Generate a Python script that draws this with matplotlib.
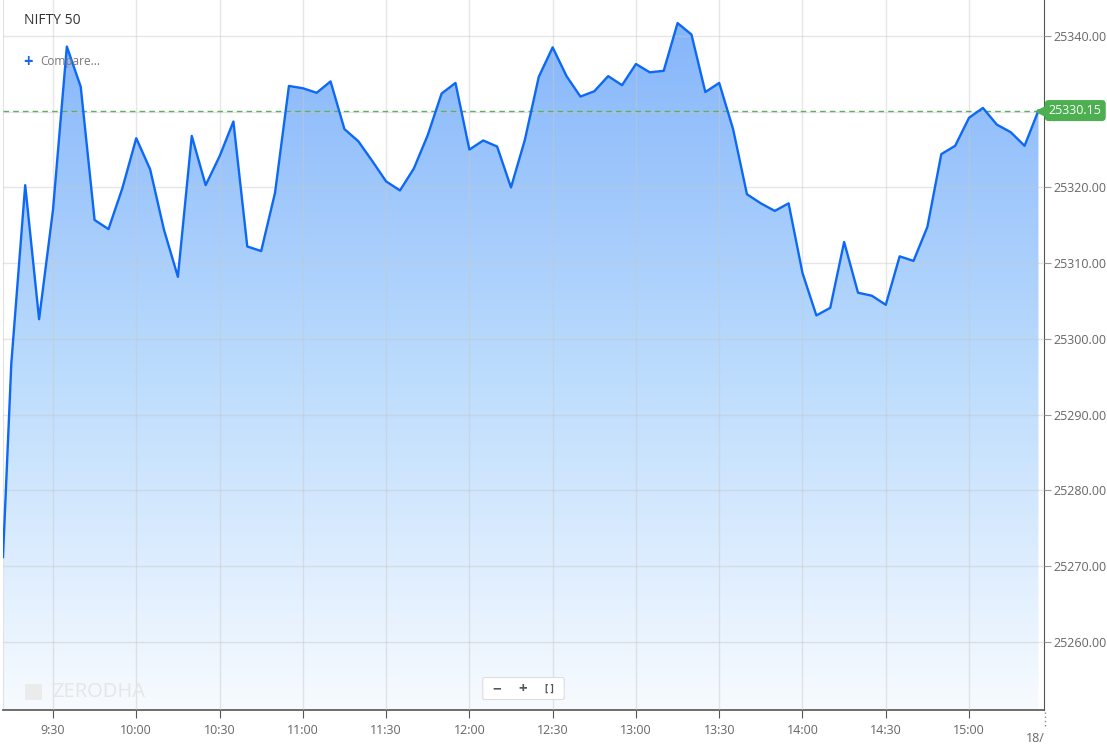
import numpy as np
import pandas as pd
import matplotlib
matplotlib.use('Agg')
import matplotlib.pyplot as plt
from matplotlib.colors import LinearSegmentedColormap
from matplotlib.patches import PathPatch, Rectangle, FancyBboxPatch

plt.rcParams['font.family'] = ['Open Sans', 'DejaVu Sans']

# NIFTY 50 intraday, 5 minute closes
times = ['09:12', '09:15'] + [t.strftime('%H:%M') for t in pd.date_range('2025-01-01 09:20', '2025-01-01 15:25', freq='5min')]
prices = [25271.2, 25296.8,
          25320.3, 25302.6, 25317.0, 25338.6, 25333.3, 25315.7, 25314.5, 25319.9, 25326.5, 25322.4,
          25314.4, 25308.2, 25326.8, 25320.3, 25324.1, 25328.7, 25312.2, 25311.6, 25319.3, 25333.4,
          25333.1, 25332.5, 25334.0, 25327.7, 25326.1, 25323.5, 25320.8, 25319.6, 25322.5, 25326.9,
          25332.4, 25333.8, 25325.0, 25326.2, 25325.4, 25320.0, 25326.3, 25334.6, 25338.5, 25334.7,
          25332.0, 25332.7, 25334.7, 25333.5, 25336.3, 25335.2, 25335.4, 25341.7, 25340.2, 25332.6,
          25333.8, 25327.7, 25319.1, 25317.9, 25316.9, 25317.9, 25308.7, 25303.1, 25304.1, 25312.8,
          25306.1, 25305.7, 25304.5, 25310.9, 25310.3, 25314.8, 25324.4, 25325.5, 25329.2, 25330.5,
          25328.3, 25327.3, 25325.5, 25330.15]
last_price = 25330.15
tick_times = ['09:30', '10:00', '10:30', '11:00', '11:30', '12:00', '12:30',
              '13:00', '13:30', '14:00', '14:30', '15:00']
y_ticks = [25260, 25270, 25280, 25290, 25300, 25310, 25320, 25330, 25340]


def to_min(s):
    h, m = s.split(':')
    return int(h) * 60 + int(m)


x = np.array([to_min(t) for t in times], dtype=float)
y = np.array(prices)
xmin, xmax = to_min('09:12'), to_min('15:27')
ymin, ymax = 25251.0, 25344.75

fig = plt.figure(figsize=(11.07, 7.49), dpi=100)
ax = fig.add_axes([3 / 1107, 39 / 749, 1041 / 1107, 710 / 749])
ax.set_xlim(xmin, xmax)
ax.set_ylim(ymin, ymax)

# gradient fill under the line
cmap = LinearSegmentedColormap.from_list('fillgrad', ['#82b3fa', '#b9dafd', '#f7fbff'])
grad = np.linspace(0, 1, 256).reshape(-1, 1)
im = ax.imshow(grad, extent=[xmin, xmax, ymin, ymax], aspect='auto', cmap=cmap,
               origin='upper', zorder=1, interpolation='bicubic')
poly = ax.fill_between(x, y, ymin, color='none', lw=0)
clip = PathPatch(poly.get_paths()[0], transform=ax.transData, fc='none', ec='none')
ax.add_patch(clip)
im.set_clip_path(clip)

ax.plot(x, y, color='#0d69f5', lw=1.7, zorder=4)

# grid
ax.set_xticks([to_min(t) for t in tick_times])
ax.set_xticklabels([t.lstrip('0') for t in tick_times])
ax.set_yticks(y_ticks)
# the 25330 label sits under the last price tag
ax.set_yticklabels(['' if v == 25330 else '%.2f' % v for v in y_ticks])
ax.grid(True, color='#c8c8c8', alpha=0.45, lw=1, zorder=2)
ax.set_axisbelow(False)

ax.yaxis.tick_right()
ax.tick_params(axis='y', length=5, color='#999999', labelcolor='#666666', labelsize=9, pad=1.5)
ax.tick_params(axis='x', length=6, color='#555555', labelcolor='#666666', labelsize=9, pad=4)

ax.spines['top'].set_visible(False)
ax.spines['left'].set_color('#e2e2e2')
ax.spines['right'].set_color('#555555')
ax.spines['bottom'].set_color('#555555')
ax.spines['bottom'].set_linewidth(1.2)

# last price line and tag
ax.axhline(last_price, color='#5fae62', ls=(0, (4, 3)), lw=1, zorder=3)
ax.plot([1.0], [last_price], marker='<', ms=15, color='#4caf50', mec='none',
        transform=ax.get_yaxis_transform(), clip_on=False, zorder=6)
ax.annotate('%.2f' % last_price, xy=(1.0, last_price), xycoords=('axes fraction', 'data'),
            xytext=(3.5, 0), textcoords='offset points', ha='left', va='center',
            color='white', fontsize=9, zorder=7, annotation_clip=False,
            bbox=dict(boxstyle='round,pad=0.32,rounding_size=0.3', fc='#4caf50', ec='none'))

# header texts
fig.text(24 / 1107, 1 - 21 / 749, 'NIFTY 50', ha='left', va='center', fontsize=10, color='#333333')
fig.text(23 / 1107, 1 - 62 / 749, '+', ha='left', va='center', fontsize=12, color='#1d67d6',
         weight='bold')
fig.text(40 / 1107, 1 - 62 / 749, 'Compare...', ha='left', va='center', fontsize=8.5, color='#777777')

# date stub at the right end of the time axis
fig.text(1045 / 1107, 1 - 738 / 749, '18/', ha='right', va='center', fontsize=9, color='#666666')
fig.add_artist(plt.Line2D([1045 / 1107, 1045 / 1107], [1 - 712 / 749, 1 - 728 / 749],
                          color='#888888', lw=1, ls=(0, (1, 2))))

# watermark
fig.patches.append(Rectangle((25 / 1107, 1 - 700 / 749), 17 / 1107, 16 / 749,
                             transform=fig.transFigure, fc='#ebebeb', ec='none', zorder=5))
fig.text(52 / 1107, 1 - 692 / 749, 'ZERODHA', ha='left', va='center', fontsize=14.5,
         color='#e6e6e6', zorder=5)

# zoom controls
fig.patches.append(FancyBboxPatch((485 / 1107, 1 - 698 / 749), 77 / 1107, 19 / 749,
                                  boxstyle='round,pad=0.002', transform=fig.transFigure,
                                  fc='white', ec='#dddddd', lw=0.8, zorder=5))
fig.text(497 / 1107, 1 - 689 / 749, '\u2212', ha='center', va='center', fontsize=11,
         color='#555555', weight='bold', zorder=6)
fig.text(523 / 1107, 1 - 689 / 749, '+', ha='center', va='center', fontsize=11,
         color='#555555', weight='bold', zorder=6)
fig.add_artist(plt.Line2D([537 / 1107, 537 / 1107], [1 - 681 / 749, 1 - 697 / 749],
                          color='#e0e0e0', lw=1))
fig.text(549 / 1107, 1 - 689 / 749, '[ ]', ha='center', va='center', fontsize=7,
         color='#555555', weight='bold', zorder=6)

fig.savefig('out.png', dpi=100)
